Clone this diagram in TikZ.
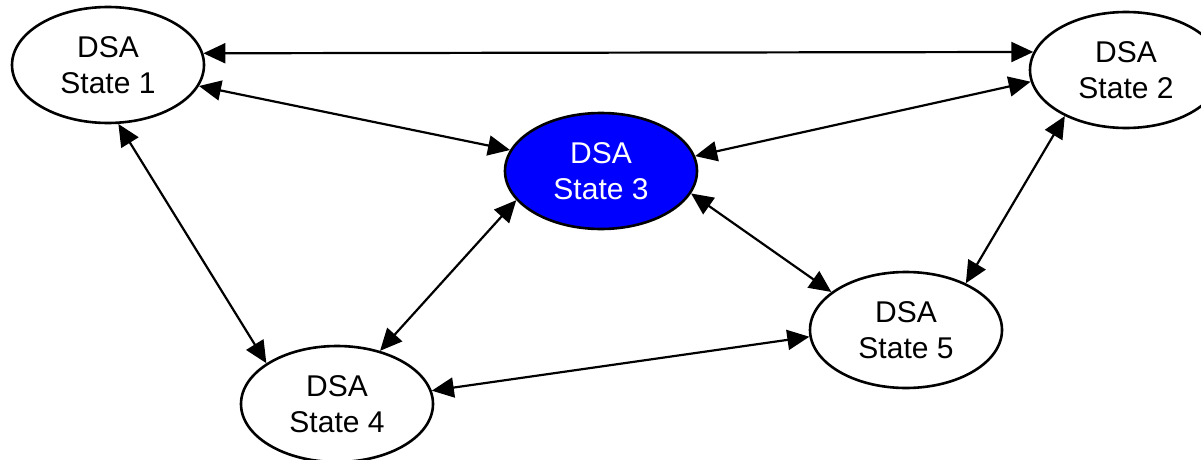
\documentclass[tikz,border=0pt]{standalone}
\usepackage{fontspec}
\setmainfont{Liberation Sans}
\usetikzlibrary{shapes.geometric,arrows.meta}
\begin{document}
\begin{tikzpicture}[x=1pt,y=1pt,
  state/.style={ellipse,draw=black,line width=2.6pt,fill=white,minimum width=192pt,minimum height=116pt,inner sep=0pt,align=center,font=\fontsize{30pt}{36pt}\selectfont},
  hot/.style={state,fill=blue,text=white},
  link/.style={line width=2.2pt,{Triangle[length=22pt,width=20pt]}-{Triangle[length=22pt,width=20pt]}}]
\useasboundingbox (0,0) rectangle (1201,459);
\node[state] (s1) at (108,394) {DSA\\State 1};
\node[state] (s2) at (1126,389) {DSA\\State 2};
\node[hot]   (s3) at (601,288) {DSA\\State 3};
\node[state] (s4) at (337,55) {DSA\\State 4};
\node[state] (s5) at (906,129) {DSA\\State 5};
\draw[link] (s1.7.7) -- (s2.169.7);
\draw[link] (s1.-13.4) -- (s3.167.7);
\draw[link] (s1.-80) -- (s4.150.5);
\draw[link] (s2.187.3) -- (s3.9.5);
\draw[link] (s2.217) -- (s5.38.5);
\draw[link] (s3.199.7) -- (s4.51.5);
\draw[link] (s3.-14.6) -- (s5.153.4);
\draw[link] (s4.8.3) -- (s5.184);
\end{tikzpicture}
\end{document}
